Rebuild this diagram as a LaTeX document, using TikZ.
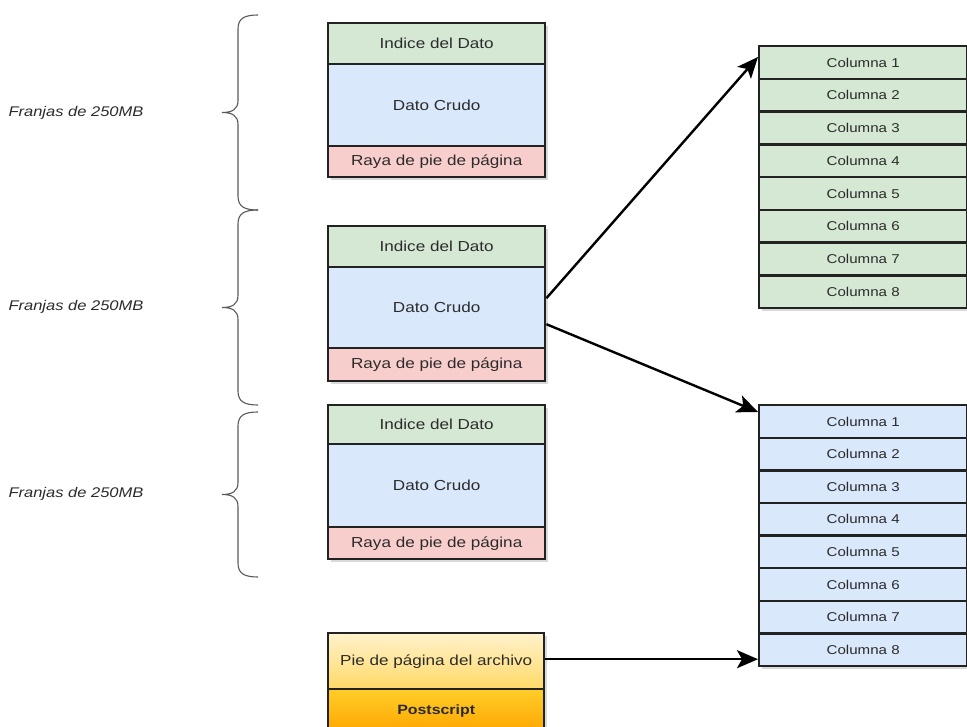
\documentclass[tikz,border=0pt]{standalone}
\usepackage{fontspec}
\setmainfont[FakeStretch=1.18]{Liberation Sans}
\usetikzlibrary{arrows.meta,shadows}

\definecolor{cellgreen}{HTML}{D5E8D4}
\definecolor{cellblue}{HTML}{DAE8FC}
\definecolor{cellred}{HTML}{F8CECC}
\definecolor{footertop}{HTML}{FFF2CC}
\definecolor{footerbottom}{HTML}{FFD966}
\definecolor{posttop}{HTML}{FFCD28}
\definecolor{postbottom}{HTML}{FFA500}
\definecolor{textgray}{HTML}{2B2B2B}
\definecolor{bordergray}{HTML}{222222}

% curly brace with stem at x=#1-20, ends at x=#1, from y=#2 to y=#3
\newcommand\stripebrace[3]{%
  \pgfmathsetmacro\bmid{(#2+#3)/2}%
  \draw[curly] (#1,#2) .. controls ({#1-13},#2) and ({#1-20},{#2+3}) .. ({#1-20},{#2+14})
    -- ({#1-20},{\bmid-12}) .. controls ({#1-20},{\bmid-3}) and ({#1-26},\bmid) .. ({#1-36},\bmid)
    .. controls ({#1-26},\bmid) and ({#1-20},{\bmid+3}) .. ({#1-20},{\bmid+12})
    -- ({#1-20},{#3-14}) .. controls ({#1-20},{#3-3}) and ({#1-13},#3) .. (#1,#3);}

\begin{document}
\begin{tikzpicture}[x=1pt,y=-1pt,
  cell/.style={draw=bordergray, line width=2.4pt, anchor=north west,
    minimum width=217, inner sep=0pt, text=textgray,
    font=\fontsize{14.5}{16}\selectfont,
    drop shadow={shadow xshift=2.5pt, shadow yshift=-2.5pt, opacity=0.3}},
  colcell/.style={cell, minimum width=208, minimum height=32.75,
    font=\fontsize{12.8}{14}\selectfont},
  stripelabel/.style={text=textgray, font=\fontsize{14}{16}\selectfont\itshape},
  curly/.style={draw=black!65, line width=1.1pt},
  conn/.style={draw=black, line width=2.4pt,
    -{Stealth[length=21pt, width=18pt, inset=5pt]}}]

\useasboundingbox (0,0) rectangle (967,727);

% row groups: index, raw data, footer stripe
\node[cell, fill=cellgreen, minimum height=41] (i1) at (327,22)  {Indice del Dato};
\node[cell, fill=cellblue,  minimum height=82] (d1) at (327,63)  {Dato Crudo};
\node[cell, fill=cellred,   minimum height=31] (r1) at (327,145) {Raya de pie de página};

\node[cell, fill=cellgreen, minimum height=41] (i2) at (327,225) {Indice del Dato};
\node[cell, fill=cellblue,  minimum height=81] (d2) at (327,266) {Dato Crudo};
\node[cell, fill=cellred,   minimum height=33] (r2) at (327,347) {Raya de pie de página};

\node[cell, fill=cellgreen, minimum height=39] (i3) at (327,404) {Indice del Dato};
\node[cell, fill=cellblue,  minimum height=83] (d3) at (327,443) {Dato Crudo};
\node[cell, fill=cellred,   minimum height=32] (r3) at (327,526) {Raya de pie de página};

% file footer and postscript
\node[cell, minimum width=216, minimum height=56,
  shading=axis, top color=footertop, bottom color=footerbottom]
  (pie) at (327,632) {Pie de página del archivo};
\node[cell, minimum width=216, minimum height=44, font=\fontsize{13.5}{15}\selectfont\bfseries,
  shading=axis, top color=posttop, bottom color=postbottom]
  (post) at (327,688) {Postscript};

% column chunks
\foreach \i in {1,...,8}{
  \node[colcell, fill=cellgreen] (g\i) at (758,{45+(\i-1)*32.75}) {Columna \i};
}
\foreach \i in {1,...,8}{
  \node[colcell, fill=cellblue] (b\i) at (758,{404+(\i-1)*32.6}) {Columna \i};
}

% stripe size labels and braces
\node[stripelabel] (f1) at (76,113) {Franjas de 250MB};
\node[stripelabel] (f2) at (76,307) {Franjas de 250MB};
\node[stripelabel] (f3) at (76,494) {Franjas de 250MB};

\stripebrace{258}{15}{210}
\stripebrace{258}{210}{405}
\stripebrace{258}{412}{577}

% connectors
\draw[conn] ([yshift=9.5pt]d2.east) -- ([yshift=-12pt]g1.north west);
\draw[conn] ([yshift=-16.5pt]d2.east) -- ([yshift=-8pt]b1.north west);
\draw[conn] ([yshift=2pt]pie.east) -- ([yshift=2pt]pie.east -| b8.west);

\end{tikzpicture}
\end{document}
